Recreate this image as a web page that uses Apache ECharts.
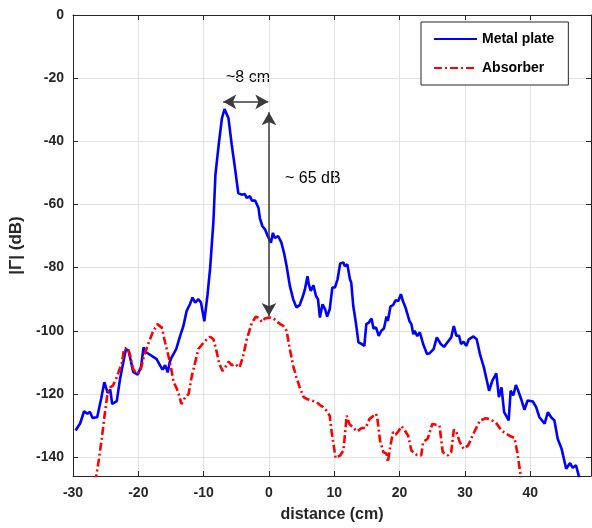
<!DOCTYPE html>
<html lang="en">
<head>
    <meta charset="UTF-8">
    <title>Reflection</title>
    <script src="https://cdn.jsdelivr.net/npm/echarts@6/dist/echarts.min.js"></script>
    <style>
        html, body { margin: 0; padding: 0; background: #fff; }
        #chart { width: 592px; height: 528px; }
    </style>
</head>
<body>
<div id="chart"></div>
<script>
    // Metal plate curve (distance in cm, |Gamma| in dB)
    var metalX = [-29.6,-28.9,-28.3,-27.8,-27.4,-27.0,-26.3,-25.7,-25.2,-24.7,-24.3,-24.0,-23.3,-22.8,-22.3,-21.9,-21.5,-21.1,-20.8,-20.1,
        -19.6,-19.2,-18.8,-18.2,-17.2,-16.8,-16.3,-15.9,-15.5,-15.2,-14.9,-14.2,-13.9,-13.6,-13.1,-12.6,-12.1,-11.7,-11.3,-10.8,
        -10.4,-9.9,-9.4,-9.0,-8.5,-8.2,-7.7,-7.2,-6.8,-6.5,-6.2,-5.7,-5.2,-4.7,-4.2,-3.7,-3.4,-2.9,-2.6,-2.1,
        -1.6,-1.4,-1.0,-0.6,-0.2,0.3,0.6,0.9,1.4,1.9,2.3,2.7,3.2,3.7,4.2,4.7,5.2,5.5,5.9,6.1,
        6.4,6.8,7.2,7.5,7.8,8.2,8.6,8.9,9.3,9.7,10.1,10.5,10.9,11.4,11.6,12.0,12.4,12.6,12.9,13.3,
        13.7,14.2,14.6,14.9,15.3,15.7,16.0,16.4,16.8,17.2,17.6,18.0,18.2,18.6,19.0,19.4,19.8,20.2,20.5,20.9,
        21.5,21.8,22.1,22.3,22.7,23.1,23.6,24.2,24.6,25.2,25.7,26.3,26.8,27.3,27.9,28.3,28.7,29.1,29.4,29.8,
        30.2,30.6,31.3,31.8,32.3,32.9,33.7,34.2,34.8,35.2,35.6,36.0,36.3,36.7,37.0,37.4,37.8,38.1,38.6,39.1,
        39.6,40.4,40.9,41.4,42.2,42.7,43.2,43.7,44.2,44.8,45.5,46.1,46.5,47.0,47.5];
    var metalY = [-131.6,-129.3,-125.5,-126.3,-125.7,-127.6,-127.4,-121.6,-116.3,-119.7,-118.6,-123.2,-122.3,-115.3,-110.0,-105.8,-106.3,-110.0,-113.0,-113.9,
        -111.6,-105.3,-106.8,-107.6,-109.0,-110.5,-112.3,-110.9,-113.2,-110.0,-108.4,-105.8,-105.8,-101.6,-98.5,-93.7,-91.6,-89.5,-91.1,-90.0,
        -91.1,-97.0,-88.5,-80.0,-65.3,-50.6,-41.1,-32.7,-29.8,-29.5,-32.7,-41.1,-48.5,-56.4,-56.9,-56.7,-57.9,-57.4,-58.8,-58.8,
        -61.1,-64.3,-66.9,-67.9,-70.0,-72.1,-69.0,-70.6,-70.0,-72.1,-75.3,-79.5,-85.8,-90.0,-92.6,-91.9,-89.0,-86.9,-82.7,-85.3,
        -87.4,-85.6,-89.0,-90.0,-95.8,-91.6,-93.2,-95.5,-93.2,-86.3,-86.3,-83.7,-78.7,-78.4,-79.5,-79.0,-83.7,-84.8,-92.1,-97.4,
        -103.7,-104.2,-104.8,-97.9,-97.4,-96.1,-99.3,-99.0,-101.6,-100.0,-99.3,-95.5,-96.9,-92.3,-91.9,-90.3,-90.6,-88.4,-90.6,-92.6,
        -96.9,-97.9,-101.1,-100.0,-101.7,-100.5,-104.2,-107.4,-107.1,-105.8,-102.1,-104.2,-105.1,-103.7,-102.1,-98.5,-101.6,-101.6,-104.2,-103.5,
        -104.8,-102.7,-101.8,-102.7,-107.4,-111.6,-119.0,-115.8,-113.5,-121.0,-117.9,-125.8,-125.6,-128.4,-119.0,-120.5,-117.2,-118.7,-121.6,-125.0,
        -122.1,-122.4,-124.2,-127.4,-129.4,-125.8,-127.4,-128.4,-134.2,-137.4,-143.7,-141.9,-143.4,-142.6,-146.5];

    // Absorber curve
    var absorberX = [-26.6,-26.1,-25.6,-25.1,-24.7,-24.3,-23.9,-23.3,-22.5,-22.2,-21.7,-21.3,-20.8,-20.2,-19.7,-19.1,-18.5,-17.8,-17.1,-16.4,
        -15.9,-15.4,-15.0,-14.6,-14.2,-13.9,-13.4,-12.8,-12.3,-11.8,-11.3,-10.8,-10.0,-9.5,-9.0,-8.5,-8.1,-7.6,-7.1,-6.7,
        -6.2,-5.7,-5.2,-4.5,-4.0,-3.4,-2.6,-2.0,-1.5,-1.1,-0.6,0.0,0.7,1.4,2.2,2.7,3.2,3.7,4.2,4.7,
        5.3,5.8,6.5,7.3,7.8,8.3,8.8,9.3,9.6,10.2,10.9,11.4,11.9,12.3,12.8,13.5,14.2,14.8,15.4,16.4,
        16.6,17.0,17.5,18.0,18.2,18.6,19.0,19.4,19.9,20.3,20.8,21.3,21.8,22.6,23.3,23.6,24.3,25.0,25.6,26.1,
        26.6,27.4,27.9,28.3,28.7,29.2,29.8,30.5,31.3,32.3,33.2,34.0,34.9,35.6,36.3,36.8,37.6,38.0,38.5,38.7];
    var absorberY = [-148.0,-141.6,-134.2,-125.8,-119.5,-117.9,-117.4,-114.7,-110.0,-105.8,-105.3,-107.4,-112.1,-113.7,-112.7,-107.9,-104.2,-100.5,-97.9,-99.0,
        -103.7,-107.9,-111.6,-116.3,-117.9,-119.5,-123.2,-121.0,-120.0,-114.2,-110.0,-105.8,-103.7,-102.7,-101.9,-102.7,-105.8,-110.5,-112.7,-111.6,
        -109.8,-110.9,-110.5,-111.6,-108.4,-102.7,-97.4,-95.5,-96.1,-97.2,-96.1,-95.8,-96.1,-97.4,-98.5,-100.0,-105.8,-111.1,-114.7,-117.9,
        -121.0,-121.6,-122.1,-122.6,-123.5,-124.2,-125.3,-126.9,-132.1,-140.3,-139.5,-137.9,-126.9,-129.5,-130.5,-131.9,-130.8,-130.8,-127.9,-126.3,
        -127.9,-134.7,-138.4,-138.9,-141.6,-136.3,-132.1,-132.9,-131.6,-130.2,-131.6,-133.2,-137.9,-139.3,-139.5,-135.2,-134.2,-129.5,-129.8,-130.0,
        -138.4,-139.5,-138.4,-131.3,-132.1,-135.2,-137.4,-136.3,-132.6,-128.4,-127.7,-128.1,-129.5,-131.6,-132.6,-133.2,-134.0,-138.4,-145.3,-148.0];

    // annotation arrows
    var widthArrow = [[-7.0, -27.5], [-0.1, -27.5]];
    var depthArrow = [[0, -30.8], [0, -95.3]];

    // axis ranges and tick values
    var xRange = [-30, 49.3, 10];
    var yRange = [-146, 0];
    var yTickValues = [-140, -120, -100, -80, -60, -40, -20, 0];

    function pairs(xs, ys) {
        var out = [];
        xs.forEach(function (x, i) { out.push([x, ys[i]]); });
        return out;
    }

    var axisColor = '#262626';
    var gridColor = '#e3e3e3';
    var font = 'Liberation Sans, Arial, Helvetica, sans-serif';

    var option = {
        animation: false,
        backgroundColor: '#fff',
        textStyle: { fontFamily: font },
        grid: { left: 73, top: 15, right: 1, bottom: 50, containLabel: false },
        legend: {
            orient: 'vertical',
            left: 421,
            top: 22,
            padding: [10, 14, 10, 12],
            itemGap: 15,
            itemWidth: 43,
            itemHeight: 14,
            borderColor: axisColor,
            borderWidth: 1,
            backgroundColor: '#fff',
            itemStyle: { opacity: 0, borderWidth: 0 },
            textStyle: { fontSize: 14, fontWeight: 'bold', color: '#000', fontFamily: font },
            data: ['Metal plate', 'Absorber']
        },
        xAxis: [{
            type: 'value',
            min: xRange[0], max: xRange[1], interval: xRange[2],
            name: 'distance (cm)',
            nameLocation: 'middle',
            nameGap: 31,
            nameTextStyle: { fontSize: 16, fontWeight: 'bold', color: axisColor },
            axisLine: { onZero: false, lineStyle: { color: axisColor, width: 1 } },
            axisTick: { inside: true, length: 5, lineStyle: { color: axisColor } },
            axisLabel: { fontSize: 14, fontWeight: 'bold', color: axisColor, margin: 10,
                showMaxLabel: false },
            splitLine: { show: true, lineStyle: { color: gridColor, width: 1 } }
        }, {
            type: 'value', position: 'top',
            min: xRange[0], max: xRange[1], interval: xRange[2],
            axisLine: { onZero: false, lineStyle: { color: axisColor, width: 1 } },
            axisTick: { inside: true, length: 5, lineStyle: { color: axisColor } },
            axisLabel: { show: false },
            splitLine: { show: false }
        }],
        yAxis: [{
            type: 'value',
            min: yRange[0], max: yRange[1],
            name: '|\u0393| (dB)',
            nameLocation: 'middle',
            nameGap: 45,
            nameTextStyle: { fontSize: 17, fontWeight: 'bold', color: axisColor },
            axisLine: { show: true, onZero: false, lineStyle: { color: axisColor, width: 1 } },
            axisTick: { show: true, inside: true, length: 5, customValues: yTickValues,
                lineStyle: { color: axisColor } },
            axisLabel: { fontSize: 14, fontWeight: 'bold', color: axisColor, margin: 9,
                customValues: yTickValues },
            splitLine: { show: true, lineStyle: { color: gridColor, width: 1 } }
        }, {
            type: 'value', position: 'right',
            min: yRange[0], max: yRange[1],
            axisLine: { show: true, onZero: false, lineStyle: { color: axisColor, width: 1 } },
            axisTick: { show: true, inside: true, length: 5, customValues: yTickValues,
                lineStyle: { color: axisColor } },
            axisLabel: { show: false, customValues: yTickValues },
            splitLine: { show: false }
        }],
        series: [{
            name: 'Metal plate',
            type: 'line',
            data: pairs(metalX, metalY),
            showSymbol: false,
            symbol: 'none',
            clip: true,
            color: '#0000ff',
            lineStyle: { color: '#0000ff', width: 2.6 },
            markLine: {
                silent: true,
                symbol: ['arrow', 'arrow'],
                symbolSize: [11, 13],
                label: { show: false },
                lineStyle: { color: '#3a3a3a', width: 1.5, type: 'solid' },
                data: [
                    [{ coord: widthArrow[0] }, { coord: widthArrow[1] }],
                    [{ coord: depthArrow[0] }, { coord: depthArrow[1] }]
                ]
            }
        }, {
            name: 'Absorber',
            type: 'line',
            data: pairs(absorberX, absorberY),
            showSymbol: false,
            symbol: 'none',
            clip: true,
            color: '#ff0000',
            lineStyle: { color: '#ff0000', width: 2.6, type: [8, 3, 2, 3] }
        }],
        graphic: [{
            type: 'text',
            left: 226, top: 70,
            style: { text: '~8 cm', fontSize: 16, fill: '#000', fontFamily: font }
        }, {
            type: 'text',
            left: 285, top: 171,
            style: { text: '~ 65 dB', fontSize: 16, fill: '#000', fontFamily: font }
        }]
    };

    var myChart = echarts.init(document.getElementById('chart'));
    myChart.setOption(option);
</script>
</body>
</html>
